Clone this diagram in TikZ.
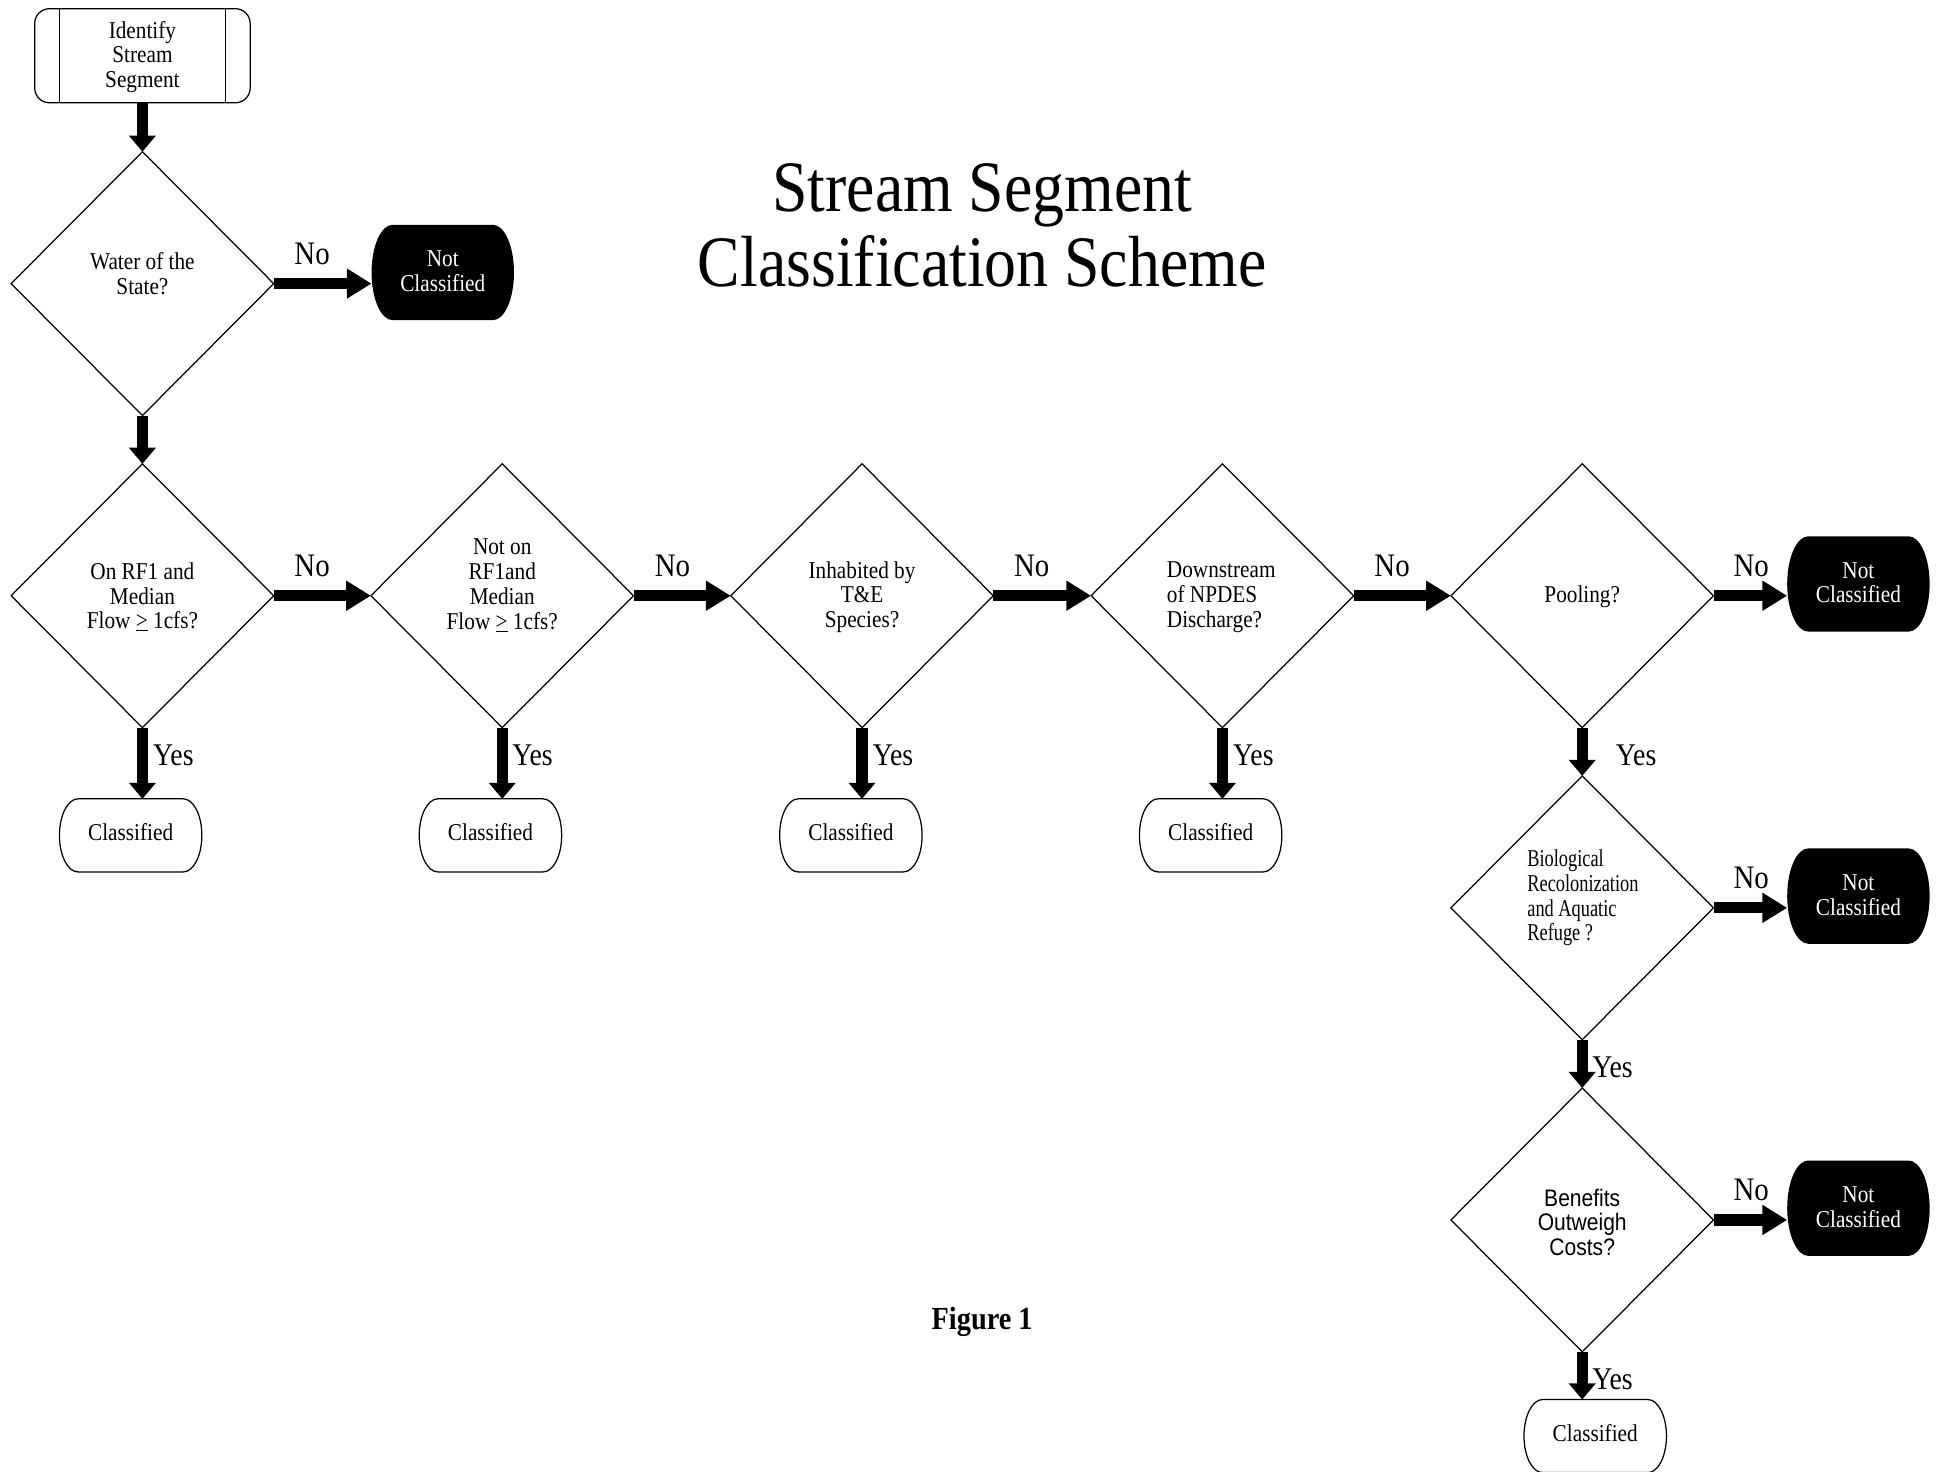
\documentclass[tikz,border=0pt]{standalone}
\usepackage{fontspec}
\setmainfont{Liberation Serif}[FakeStretch=0.88]
\setsansfont{Liberation Sans}[FakeStretch=0.88]
\newfontfamily\condserif{Liberation Serif}[FakeStretch=0.76]
\usetikzlibrary{shapes.geometric,arrows.meta}
\pgfdeclarelayer{background}
\pgfsetlayers{background,main}
\newcommand\capsoutline[4]{%
  \path[#4] ([xshift=#2]#1.north west) -- ([xshift=-#2]#1.north east)
    arc[start angle=90, end angle=-90, x radius=#2, y radius=#3]
    -- ([xshift=#2]#1.south west)
    arc[start angle=270, end angle=90, x radius=#2, y radius=#3] -- cycle;}
\tikzset{
  dia/.style={diamond, draw, line width=1pt, minimum width=212pt, minimum height=213pt, inner sep=0pt, outer sep=0pt},
  txt/.style={font=\fontsize{19.5}{20}\selectfont, align=center, inner sep=0pt},
  procbox/.style={draw, line width=1pt, rounded corners=12pt, minimum width=174pt, minimum height=76pt, inner sep=0pt, outer sep=0pt},
  classbox/.style={minimum width=115pt, minimum height=59pt, inner sep=0pt, outer sep=0pt},
  notbox/.style={minimum width=115pt, minimum height=77pt, inner sep=0pt, outer sep=0pt},
  classline/.style={draw, line width=1pt, fill=white},
  notfill/.style={fill=black},
  whitetxt/.style={txt, text=white},
  vflow/.style={line width=9pt, -{Triangle[length=13pt,width=21pt]}},
  hflow/.style={line width=9pt, -{Triangle[length=20pt,width=23pt]}},
  lab/.style={font=\fontsize{26.5}{28}\selectfont, inner sep=0pt},
  ylab/.style={font=\fontsize{25.5}{28}\selectfont, inner sep=0pt},
}
\begin{document}
\begin{tikzpicture}[x=1pt,y=-1pt]
\begin{pgfonlayer}{background}
\fill[white] (0,0) rectangle (1568,1188);
\end{pgfonlayer}
\useasboundingbox (0,0) rectangle (1568,1188);

% title
\node[font=\fontsize{58.5}{60}\selectfont, align=center, inner sep=0pt] (title) at (793,182) {Stream Segment\\Classification Scheme};
\node[font=\fontsize{26}{28}\selectfont\bfseries, inner sep=0pt] (fig) at (793,1067) {Figure 1};

% start
\node[procbox] (id) at (115,45) {};
\draw[line width=1pt] ([xshift=20pt]id.north west) -- ([xshift=20pt]id.south west);
\draw[line width=1pt] ([xshift=-20pt]id.north east) -- ([xshift=-20pt]id.south east);
\node[txt] (idt) at (115,46) {Identify\\Stream\\Segment};

% diamonds
\node[dia] (d1) at (115,229) {};
\node[txt] (d1t) at (115,221) {Water of the\\State?};
\node[dia] (d2) at (115,481) {};
\node[txt] (d2t) at (115,482) {On RF1 and\\Median\\Flow \underline{>} 1cfs?};
\node[dia] (d3) at (405.5,481) {};
\node[txt] (d3t) at (405.5,472.5) {Not on\\RF1and\\Median\\Flow \underline{>} 1cfs?};
\node[dia] (d4) at (696,481) {};
\node[txt] (d4t) at (696,482) {Inhabited by\\T\&E\\Species?};
\node[dia] (d5) at (987,481) {};
\node[txt, align=left, anchor=west] (d5t) at (942,482) {Downstream\\of NPDES\\Discharge?};
\node[dia] (d6) at (1277.5,481) {};
\node[txt] (d6t) at (1277.5,482) {Pooling?};
\node[dia] (d7) at (1277.5,733) {};
\node[txt, align=left, anchor=west, font=\condserif\fontsize{19.5}{20}\selectfont] (d7t) at (1233,725) {Biological\\Recolonization\\and Aquatic\\Refuge ?};
\node[dia] (d8) at (1277.5,985) {};
\node[txt, font=\sffamily\fontsize{19.3}{20}\selectfont] (d8t) at (1277.5,987) {Benefits\\Outweigh\\Costs?};

% not classified
\node[notbox] (n1) at (357.5,220) {};
\node[notbox] (n2) at (1500.5,471.5) {};
\node[notbox] (n3) at (1500.5,723.5) {};
\node[notbox] (n4) at (1500.5,975.5) {};
\begin{pgfonlayer}{background}
\capsoutline{n1}{17pt}{38.5pt}{notfill}
\capsoutline{n2}{17pt}{38.5pt}{notfill}
\capsoutline{n3}{17pt}{38.5pt}{notfill}
\capsoutline{n4}{17pt}{38.5pt}{notfill}
\end{pgfonlayer}
\node[whitetxt] (n1t) at (357.5,219) {Not\\Classified};
\node[whitetxt] (n2t) at (1500.5,470.5) {Not\\Classified};
\node[whitetxt] (n3t) at (1500.5,722.5) {Not\\Classified};
\node[whitetxt] (n4t) at (1500.5,974.5) {Not\\Classified};

% classified
\node[classbox] (c1) at (105.5,674.5) {};
\node[classbox] (c2) at (396,674.5) {};
\node[classbox] (c3) at (687,674.5) {};
\node[classbox] (c4) at (977.5,674.5) {};
\node[classbox] (c5) at (1288,1159.5) {};
\capsoutline{c1}{15pt}{29.5pt}{classline}
\capsoutline{c2}{15pt}{29.5pt}{classline}
\capsoutline{c3}{15pt}{29.5pt}{classline}
\capsoutline{c4}{15pt}{29.5pt}{classline}
\capsoutline{c5}{15pt}{29.5pt}{classline}
\node[txt] (c1t) at (105.5,672) {Classified};
\node[txt] (c2t) at (396,672) {Classified};
\node[txt] (c3t) at (687,672) {Classified};
\node[txt] (c4t) at (977.5,672) {Classified};
\node[txt] (c5t) at (1288,1157) {Classified};

% vertical arrows
\draw[vflow] (id.south -| d1.north) -- (d1.north);
\draw[vflow] (d1.south) -- (d2.north);
\draw[vflow] (d2.south) -- (d2.south |- c1.north);
\draw[vflow] (d3.south) -- (d3.south |- c2.north);
\draw[vflow] (d4.south) -- (d4.south |- c3.north);
\draw[vflow] (d5.south) -- (d5.south |- c4.north);
\draw[vflow] (d6.south) -- (d7.north);
\draw[vflow] (d7.south) -- (d8.north);
\draw[vflow] (d8.south) -- (d8.south |- c5.north);

% horizontal arrows
\draw[hflow] (d1.east) -- (d1.east -| n1.west);
\draw[hflow] (d2.east) -- (d3.west);
\draw[hflow] (d3.east) -- (d4.west);
\draw[hflow] (d4.east) -- (d5.west);
\draw[hflow] (d5.east) -- (d6.west);
\draw[hflow] (d6.east) -- (d6.east -| n2.west);
\draw[hflow] (d7.east) -- (d7.east -| n3.west);
\draw[hflow] (d8.east) -- (d8.east -| n4.west);

% labels
\node[lab] (l1) at (252,205) {No};
\node[lab] (l2) at (252,457) {No};
\node[lab] (l3) at (543,457) {No};
\node[lab] (l4) at (833,457) {No};
\node[lab] (l5) at (1124,457) {No};
\node[lab] (l6) at (1414,457) {No};
\node[lab] (l7) at (1414,709) {No};
\node[lab] (l8) at (1414,961) {No};
\node[ylab] (y1) at (140,610) {Yes};
\node[ylab] (y2) at (430,610) {Yes};
\node[ylab] (y3) at (721,610) {Yes};
\node[ylab] (y4) at (1012,610) {Yes};
\node[ylab] (y5) at (1321,610) {Yes};
\node[ylab] (y6) at (1302,862) {Yes};
\node[ylab] (y7) at (1302,1114) {Yes};
\end{tikzpicture}
\end{document}
